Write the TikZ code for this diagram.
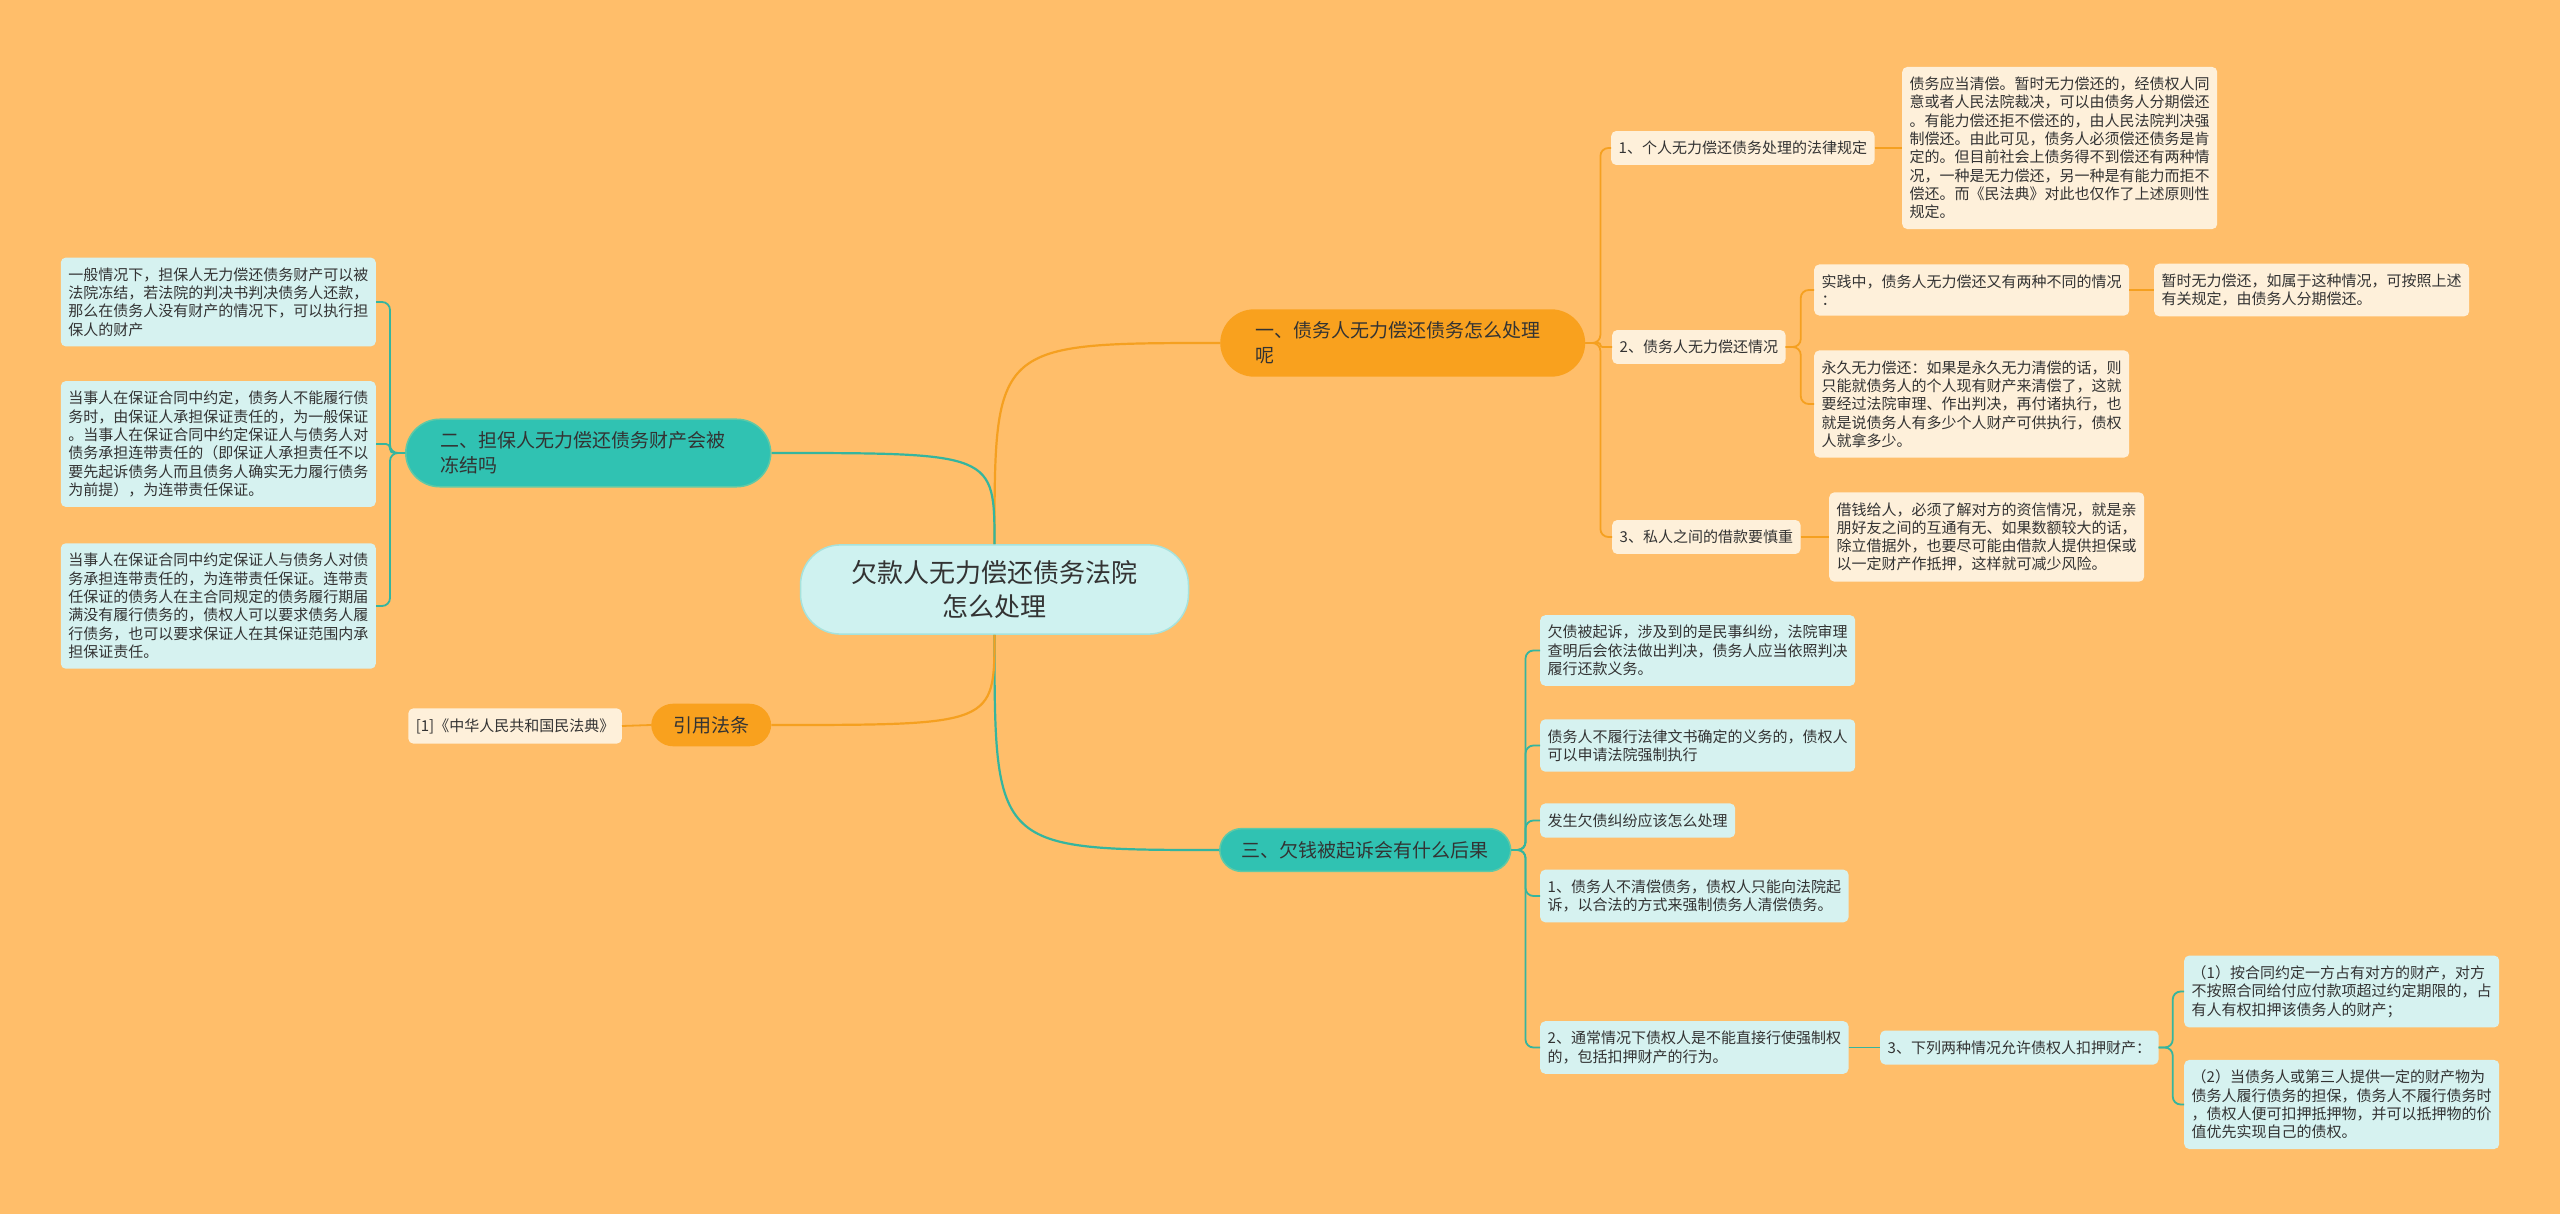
\documentclass[tikz,border=0pt]{standalone}
\usepackage{fontspec}
\setmainfont{Noto Sans CJK SC}
\usetikzlibrary{calc}
\definecolor{bgc}{HTML}{FFBE6A}
\definecolor{orng}{HTML}{F9A11E}
\definecolor{tealc}{HTML}{30C2B2}
\definecolor{tealb}{HTML}{5FC9A6}
\definecolor{cenfill}{HTML}{CFF2F0}
\definecolor{cenborder}{HTML}{A6E2DC}
\definecolor{leafcy}{HTML}{D6F2F0}
\definecolor{leafcr}{HTML}{FEF0DA}
\definecolor{txt}{HTML}{333333}
\definecolor{oline}{HTML}{F5A020}
\definecolor{tline}{HTML}{35B59E}
\newcommand\leaffont{\fontsize{15}{18.3}\selectfont}
\newcommand\pillfont{\fontsize{19}{25}\selectfont}
\newcommand\cenfont{\fontsize{26}{34}\selectfont}
\begin{document}
\begin{tikzpicture}[x=1pt,y=-1pt,
  leafc/.style={fill=leafcy, rounded corners=5pt, inner xsep=7.5pt, inner ysep=10pt, align=left, font=\leaffont, text=txt},
  leafo/.style={leafc, fill=leafcr},
  pillo/.style={fill=orng, rounded corners=22pt, inner xsep=22pt, inner ysep=12.5pt, align=left, font=\pillfont, text=txt},
  pillt/.style={pillo, fill=tealc, draw=tealb, line width=1.5pt},
  wide/.style={text width=295pt, inner xsep=35pt, rounded corners=34pt},
  ol/.style={draw=oline, line width=2.2pt},
  tl/.style={draw=tline, line width=2.2pt},
  olc/.style={draw=oline, line width=1.8pt, rounded corners=8pt},
  tlc/.style={draw=tline, line width=1.8pt, rounded corners=8pt}
]
\fill[bgc] (0,0) rectangle (2560,1214);
\useasboundingbox (0,0) rectangle (2560,1214);

% central
\node[fill=cenfill, draw=cenborder, line width=1.5pt, rounded corners=40pt, inner xsep=51pt, inner ysep=15.5pt, align=center, font=\cenfont, text=txt] (c) at (994.5,589.5) {欠款人无力偿还债务法院\\怎么处理};

% main branches
\node[pillo, wide, anchor=west] (b1) at (1220,343) {一、债务人无力偿还债务怎么处理\\呢};
\node[pillt, wide, anchor=west] (b2) at (405,453) {二、担保人无力偿还债务财产会被\\冻结吗};
\node[pillt, anchor=west] (b3) at (1219,850) {三、欠钱被起诉会有什么后果};
\node[pillo, anchor=west] (b4) at (651,725) {引用法条};
\node[leafo, anchor=east] (ref) at (622,726) {[1]《中华人民共和国民法典》};

% branch 2 leaves
\node[leafc, anchor=east] (la) at (376,302) {一般情况下，担保人无力偿还债务财产可以被\\法院冻结，若法院的判决书判决债务人还款，\\那么在债务人没有财产的情况下，可以执行担\\保人的财产};
\node[leafc, anchor=east] (lb) at (376,444) {当事人在保证合同中约定，债务人不能履行债\\务时，由保证人承担保证责任的，为一般保证\\。当事人在保证合同中约定保证人与债务人对\\债务承担连带责任的（即保证人承担责任不以\\要先起诉债务人而且债务人确实无力履行债务\\为前提），为连带责任保证。};
\node[leafc, anchor=east] (lc) at (376,606) {当事人在保证合同中约定保证人与债务人对债\\务承担连带责任的，为连带责任保证。连带责\\任保证的债务人在主合同规定的债务履行期届\\满没有履行债务的，债权人可以要求债务人履\\行债务，也可以要求保证人在其保证范围内承\\担保证责任。};

% branch 1 children
\node[leafo, anchor=west] (n11) at (1611,148) {1、个人无力偿还债务处理的法律规定};
\node[leafo, anchor=west] (d11) at (1902,148) {债务应当清偿。暂时无力偿还的，经债权人同\\意或者人民法院裁决，可以由债务人分期偿还\\。有能力偿还拒不偿还的，由人民法院判决强\\制偿还。由此可见，债务人必须偿还债务是肯\\定的。但目前社会上债务得不到偿还有两种情\\况，一种是无力偿还，另一种是有能力而拒不\\偿还。而《民法典》对此也仅作了上述原则性\\规定。};
\node[leafo, anchor=west] (n12) at (1612,347) {2、债务人无力偿还情况};
\node[leafo, anchor=west] (s1) at (1814,290) {实践中，债务人无力偿还又有两种不同的情况\\：};
\node[leafo, anchor=west] (s1b) at (2154,290) {暂时无力偿还，如属于这种情况，可按照上述\\有关规定，由债务人分期偿还。};
\node[leafo, anchor=west] (s2) at (1814,404) {永久无力偿还：如果是永久无力清偿的话，则\\只能就债务人的个人现有财产来清偿了，这就\\要经过法院审理、作出判决，再付诸执行，也\\就是说债务人有多少个人财产可供执行，债权\\人就拿多少。};
\node[leafo, anchor=west] (n13) at (1612,537) {3、私人之间的借款要慎重};
\node[leafo, anchor=west] (d13) at (1829,537) {借钱给人，必须了解对方的资信情况，就是亲\\朋好友之间的互通有无、如果数额较大的话，\\除立借据外，也要尽可能由借款人提供担保或\\以一定财产作抵押，这样就可减少风险。};

% branch 3 children
\node[leafc, anchor=west] (l1) at (1540,650.5) {欠债被起诉，涉及到的是民事纠纷，法院审理\\查明后会依法做出判决，债务人应当依照判决\\履行还款义务。};
\node[leafc, anchor=west] (l2) at (1540,745.5) {债务人不履行法律文书确定的义务的，债权人\\可以申请法院强制执行};
\node[leafc, anchor=west] (l3) at (1540,820.5) {发生欠债纠纷应该怎么处理};
\node[leafc, anchor=west] (l4) at (1540,896) {1、债务人不清偿债务，债权人只能向法院起\\诉，以合法的方式来强制债务人清偿债务。};
\node[leafc, anchor=west] (l5) at (1540,1047.5) {2、通常情况下债权人是不能直接行使强制权\\的，包括扣押财产的行为。};
\node[leafc, anchor=west] (n3x) at (1880,1047.5) {3、下列两种情况允许债权人扣押财产：};
\node[leafc, anchor=west] (p1) at (2184,991.5) {（1）按合同约定一方占有对方的财产，对方\\不按照合同给付应付款项超过约定期限的，占\\有人有权扣押该债务人的财产；};
\node[leafc, anchor=west] (p2) at (2184,1104.5) {（2）当债务人或第三人提供一定的财产物为\\债务人履行债务的担保，债务人不履行债务时\\，债权人便可扣押抵押物，并可以抵押物的价\\值优先实现自己的债权。};

% central connectors
\draw[ol] (c.north) .. controls (c.north |- b1.west) .. (b1.west);
\draw[tl] (c.north) .. controls (c.north |- b2.east) .. (b2.east);
\draw[tl] (c.south) .. controls (c.south |- b3.west) .. (b3.west);
\draw[ol] (c.south) .. controls (c.south |- b4.east) .. (b4.east);

% branch 1 connectors
\draw[olc] (b1.east) -- ++(15,0) |- (n11.west);
\draw[olc, rounded corners=2pt] (b1.east) -- ++(15,0) |- (n12.west);
\draw[olc] (b1.east) -- ++(15,0) |- (n13.west);
\draw[olc] (n11.east) -- (d11.west);
\draw[olc] (n12.east) -- ++(15,0) |- (s1.west);
\draw[olc] (n12.east) -- ++(15,0) |- (s2.west);
\draw[olc] (s1.east) -- (s1b.west);
\draw[olc] (n13.east) -- (d13.west);
\draw[olc] (b4.west) -- (ref.east);

% branch 2 connectors
\draw[tlc] (b2.west) -- ++(-15,0) |- (la.east);
\draw[tlc, rounded corners=4pt] (b2.west) -- ++(-15,0) |- (lb.east);
\draw[tlc] (b2.west) -- ++(-15,0) |- (lc.east);

% branch 3 connectors
\draw[tlc] (b3.east) -- ++(14,0) |- (l1.west);
\draw[tlc] (b3.east) -- ++(14,0) |- (l2.west);
\draw[tlc] (b3.east) -- ++(14,0) |- (l3.west);
\draw[tlc] (b3.east) -- ++(14,0) |- (l4.west);
\draw[tlc] (b3.east) -- ++(14,0) |- (l5.west);
\draw[tlc] (l5.east) -- (n3x.west);
\draw[tlc] (n3x.east) -- ++(14,0) |- (p1.west);
\draw[tlc] (n3x.east) -- ++(14,0) |- (p2.west);
\end{tikzpicture}
\end{document}
